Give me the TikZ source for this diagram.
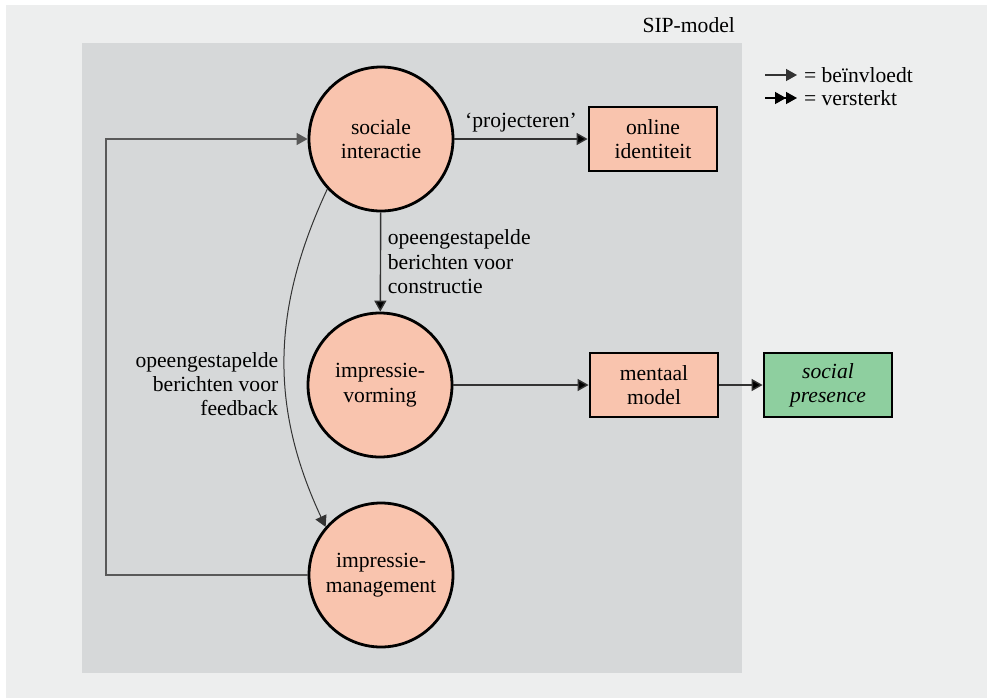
\documentclass[tikz,border=0pt]{standalone}
\usepackage{fontspec}
\setmainfont{Liberation Serif}
\usetikzlibrary{arrows.meta}
\usetikzlibrary{positioning}

\definecolor{zalm}{HTML}{F9C4AE}
\definecolor{groen}{HTML}{8ECF9F}
\definecolor{paneel}{HTML}{D6D8D9}
\definecolor{achter}{HTML}{EDEEEE}

\begin{document}
\begin{tikzpicture}[x=0.5pt,y=-0.5pt,>={Triangle[length=5.5pt,width=6pt]},font=\fontsize{10.8}{12.2}\selectfont]
	\tikzstyle{cirkel}=[draw,circle,fill=zalm,line width=1.4pt,minimum size=72pt,inner sep=0pt,align=center]
	\tikzstyle{blok}=[draw,rectangle,fill=zalm,line width=1.4pt,minimum width=64pt,minimum height=32pt,inner sep=0pt,align=center]
	\tikzstyle{pijl}=[->,line width=0.7pt,draw=black!80]
	\useasboundingbox (0,0) rectangle (987,698);
	\fill[white] (0,0) rectangle (987,698);
	\fill[achter] (6,5) rectangle (987,698);
	\fill[paneel] (82,43) rectangle (742,673);
	\node[anchor=east] (sip) at (742,25) {SIP-model};
	% knopen
	\node[cirkel] (soc) at (381,139) {sociale\\interactie};
	\node[cirkel] (vorm) at (380,385) {impressie-\\vorming};
	\node[cirkel] (man) at (381,575) {impressie-\\management};
	\node[blok] (id) at (653,139) {online\\identiteit};
	\node[blok] (ment) at (654,385) {mentaal\\model};
	\node[blok,fill=groen,font=\fontsize{10.8}{12.2}\selectfont\itshape] (pres) at (828,385) {social\\presence};
	\coordinate (hoek) at (106,575);
	% pijlen
	\path[pijl]
		(soc) edge node[above] {‘projecteren’} (id)
		(soc) edge node[right,align=left] {opeengestapelde\\berichten voor\\constructie} (vorm)
		(vorm) edge (ment)
		(ment) edge (pres);
	\draw[pijl,line width=0.5pt] (soc.223) to[out=245,in=115] node[pos=0.58,left,align=right] {opeengestapelde\\berichten voor\\feedback} (man.139);
	\draw[pijl,draw=black!65] (man.west) -- (hoek) |- (soc.west);
	% legenda
	\node[anchor=west] (leg1) at (797,75) {= beïnvloedt};
	\node[anchor=west] (leg2) at (797,98) {= versterkt};
	\coordinate (l1) at (765,75);
	\coordinate (l2) at (765,98);
	\draw[pijl] (l1) -- (leg1.west);
	\draw[->>,line width=0.7pt] (l2) -- (leg2.west);
\end{tikzpicture}
\end{document}
